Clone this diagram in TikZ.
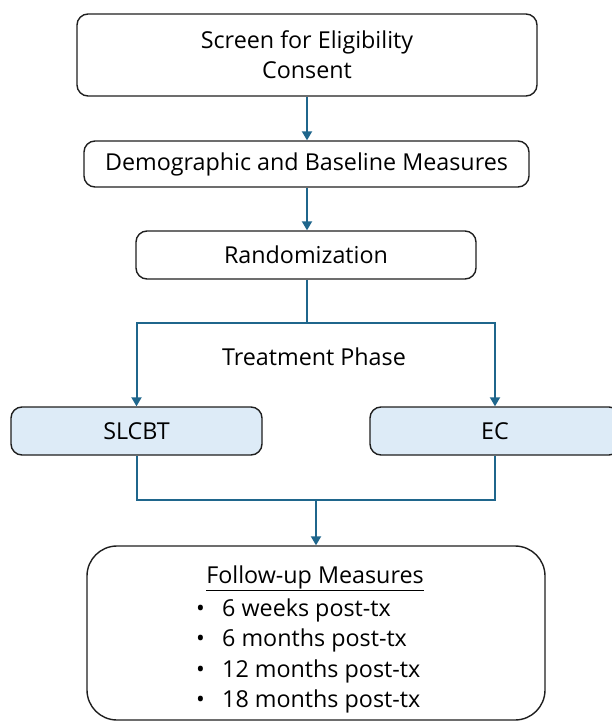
\documentclass[tikz,border=0pt]{standalone}
\usepackage{fontspec}
\setmainfont{Open Sans}
\usetikzlibrary{arrows.meta,calc}
\definecolor{linec}{RGB}{31,102,140}
\definecolor{boxfill}{RGB}{221,235,247}
\definecolor{boxdraw}{RGB}{30,30,30}
\tikzset{
  box/.style={draw=boxdraw,line width=1.4pt,rounded corners=11pt,inner sep=0pt,align=center,
    font=\fontsize{23.3}{30}\selectfont,text=black},
  armbox/.style={box,fill=boxfill},
  conn/.style={draw=linec,line width=2pt},
  arr/.style={conn,-{Triangle[length=9pt,width=10pt]}},
  txt/.style={font=\fontsize{23.3}{30.5}\selectfont,inner sep=0pt,text=black}
}
\begin{document}
\begin{tikzpicture}[x=1pt,y=-1pt]
\useasboundingbox (0,0) rectangle (611,726);
\node[box,minimum width=460pt,minimum height=82pt] (screen) at (307,55) {Screen for Eligibility\\Consent};
\node[box,minimum width=445pt,minimum height=46pt] (demo) at (306.5,164) {Demographic and Baseline Measures};
\node[box,minimum width=340pt,minimum height=48pt] (rand) at (306,255) {Randomization};
\node[armbox,minimum width=251pt,minimum height=48pt] (slcbt) at (136.5,431) {SLCBT};
\node[armbox,minimum width=250pt,minimum height=48pt] (ec) at (495,431) {EC};
\node[box,rounded corners=30pt,minimum width=458pt,minimum height=174pt] (fu) at (316,633) {};
\node[txt] (phase) at (314,357) {Treatment Phase};
\node[txt] (futitle) at (315,578) {\underline{Follow-up Measures}};
\node[txt,anchor=base west,align=left] (fulist) at (196,707.5) {\makebox[26pt][l]{•}6 weeks post-tx\\\makebox[26pt][l]{•}6 months post-tx\\\makebox[26pt][l]{•}12 months post-tx\\\makebox[26pt][l]{•}18 months post-tx};
\coordinate (split) at (307,323);
\coordinate (merge) at (316,500);
\draw[arr] (screen.south -| split) -- (demo.north -| split);
\draw[arr] (demo.south -| split) -- (rand.north -| split);
\draw[conn] (rand.south -| split) -- (split);
\draw[arr] (split) -| (slcbt.north);
\draw[arr] (split) -| (ec.north);
\draw[conn] (slcbt.south) |- (merge);
\draw[conn] (ec.south) |- (merge);
\draw[arr] (merge) -- (fu.north -| merge);
\end{tikzpicture}
\end{document}
